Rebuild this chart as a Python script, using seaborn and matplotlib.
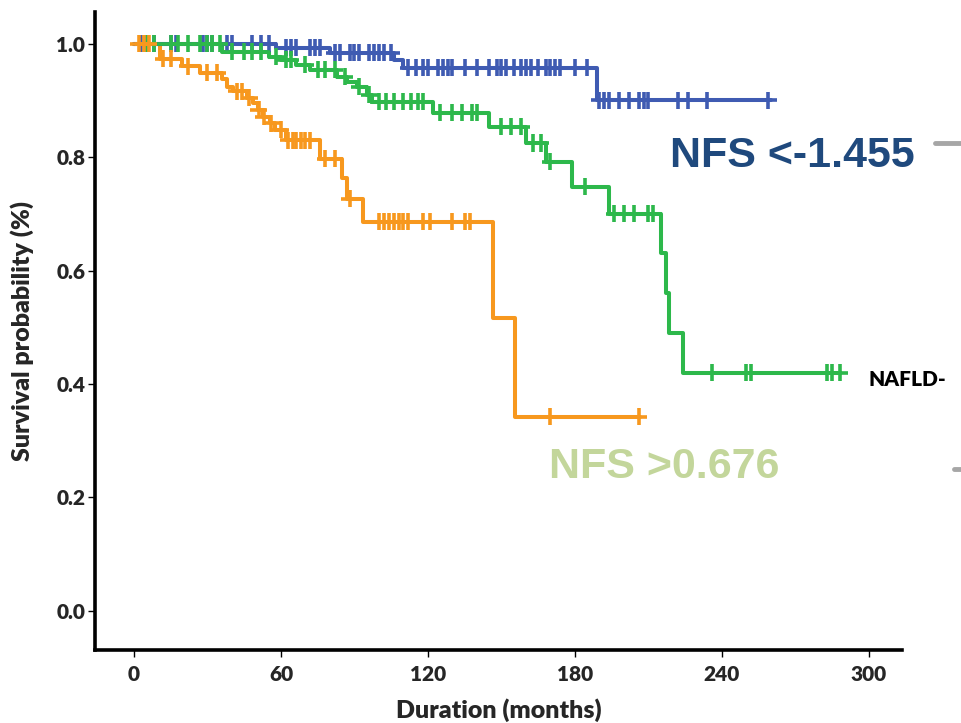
import numpy as np
import pandas as pd
import matplotlib
matplotlib.use("Agg")
import matplotlib.pyplot as plt
import seaborn as sns

# ---- data ----
groups = ["NFS <-1.455", "NAFLD-", "NFS >0.676"]

blue_t = [0, 58, 80, 106, 110, 189, 260]
blue_s = [1.0, 0.993, 0.984, 0.972, 0.958, 0.90, 0.90]
blue_cens = [3, 5, 8, 15, 17, 28, 30, 32, 38, 40, 48, 52, 55, 62, 64, 66, 72, 74, 76,
             82, 84, 88, 90, 92, 96, 98, 100, 102, 105, 112, 115, 118, 120, 124, 126,
             128, 130, 135, 140, 145, 148, 150, 152, 155, 158, 160, 162, 165, 168, 170,
             172, 174, 180, 185, 190, 192, 194, 198, 202, 206, 208, 210, 222, 226, 234, 259]

green_t = [0, 36, 55, 60, 66, 72, 83, 87, 91, 95, 97, 122, 145, 160, 168, 179, 194,
           215, 217, 218.5, 224, 288]
green_s = [1.0, 0.986, 0.977, 0.972, 0.963, 0.954, 0.942, 0.933, 0.924, 0.91, 0.898,
           0.878, 0.854, 0.825, 0.792, 0.748, 0.70, 0.631, 0.561, 0.49, 0.42, 0.42]
green_cens = [5, 8, 15, 18, 22, 27, 30, 32, 35, 40, 45, 48, 52, 58, 62, 64, 70, 75, 78,
              82, 86, 92, 96, 100, 103, 106, 110, 113, 116, 118, 125, 130, 134, 138, 140,
              150, 154, 158, 163, 166, 170, 184, 196, 200, 204, 210, 212, 236, 250, 252,
              283, 285, 288]

orange_t = [0, 10.6, 19.6, 27, 36, 38, 40.5, 46, 48.6, 50.6, 52.7, 55.5, 57.6, 62, 76,
            85, 87, 93.5, 146.5, 155.5, 206.5]
orange_s = [1.0, 0.974, 0.96, 0.949, 0.937, 0.924, 0.916, 0.905, 0.896, 0.884, 0.871,
            0.86, 0.848, 0.83, 0.797, 0.763, 0.727, 0.686, 0.517, 0.342, 0.342]
orange_cens = [2, 4, 6, 12, 15, 22, 30, 34, 42, 44, 47, 51, 53, 56, 60, 63, 65, 66, 68,
               70, 72, 78, 82, 88, 100, 102, 104, 106, 108, 110, 112, 118, 121, 130, 135,
               137, 170, 206]

x_ticks = [0, 60, 120, 180, 240, 300]
y_ticks = [0.0, 0.2, 0.4, 0.6, 0.8, 1.0]

colors = {"NFS <-1.455": "#3F5BB2", "NAFLD-": "#2DB84B", "NFS >0.676": "#F7981E"}

# ---- tables ----
curves = {"NFS <-1.455": (blue_t, blue_s, blue_cens),
          "NAFLD-": (green_t, green_s, green_cens),
          "NFS >0.676": (orange_t, orange_s, orange_cens)}
rows, crow = [], []
for g, (t, s, c) in curves.items():
    for ti, si in zip(t, s):
        rows.append({"group": g, "time": ti, "surv": si})
    t_arr = np.array(t)
    for ci in c:
        idx = np.searchsorted(t_arr, ci, side="right") - 1
        crow.append({"group": g, "time": ci, "surv": s[idx]})
df = pd.DataFrame(rows)
cdf = pd.DataFrame(crow)

# ---- plot ----
sns.set_style("white")
plt.rcParams["font.family"] = ["Lato", "DejaVu Sans"]

fig = plt.figure(figsize=(9.61, 7.23), dpi=100)
ax = fig.add_axes([95 / 961, 1 - 650 / 723, (902 - 95) / 961, (650 - 12) / 723])

order = ["NFS >0.676", "NAFLD-", "NFS <-1.455"]
sns.lineplot(data=df, x="time", y="surv", hue="group", palette=colors,
             drawstyle="steps-post", estimator=None, sort=True, linewidth=2.9,
             legend=False, ax=ax, hue_order=order)
sns.scatterplot(data=cdf, x="time", y="surv", hue="group", palette=colors,
                marker="+", s=150, linewidth=2.6, legend=False, ax=ax,
                hue_order=order, zorder=3)

ax.set_xlim(-15.9, 313.5)
ax.set_ylim(-0.069, 1.056)
ax.set_xticks(x_ticks)
ax.set_xticklabels([str(v) for v in x_ticks])
ax.set_yticks(y_ticks)
ax.set_yticklabels([f"{v:.1f}" for v in y_ticks])
ax.tick_params(axis="both", which="major", direction="out", length=5, width=1,
               color="black", labelsize=15, pad=2, left=True, bottom=True)
for lab in ax.get_xticklabels() + ax.get_yticklabels():
    lab.set_fontweight("heavy")
ax.tick_params(axis="x", pad=6)

for side in ["top", "right"]:
    ax.spines[side].set_visible(False)
for side in ["left", "bottom"]:
    ax.spines[side].set_color("black")
    ax.spines[side].set_linewidth(2.6)

ax.set_xlabel("Duration (months)", fontsize=18, fontweight="heavy", labelpad=10)
ax.set_ylabel("Survival probability (%)", fontsize=18, fontweight="heavy", labelpad=16)
ax.grid(False)

# annotations
fig.text(670 / 961, 1 - 156 / 723, "NFS <-1.455", color="#1F497D", fontsize=31,
         fontweight="bold", family=["Liberation Sans", "DejaVu Sans"],
         ha="left", va="center")
fig.text(549 / 961, 1 - 467 / 723, "NFS >0.676", color="#C3D69B", fontsize=31,
         fontweight="bold", family=["Liberation Sans", "DejaVu Sans"],
         ha="left", va="center")
fig.text(868 / 961, 1 - 380 / 723, "NAFLD-", color="black", fontsize=15,
         fontweight="heavy", ha="left", va="center")
fig.add_artist(plt.Line2D([935 / 961, 1.0], [1 - 143 / 723] * 2, color="#A6A6A6",
                          linewidth=3.5, transform=fig.transFigure))
fig.add_artist(plt.Line2D([954 / 961, 1.0], [1 - 469 / 723] * 2, color="#A6A6A6",
                          linewidth=3.5, transform=fig.transFigure))

fig.savefig("out.png", dpi=100)
